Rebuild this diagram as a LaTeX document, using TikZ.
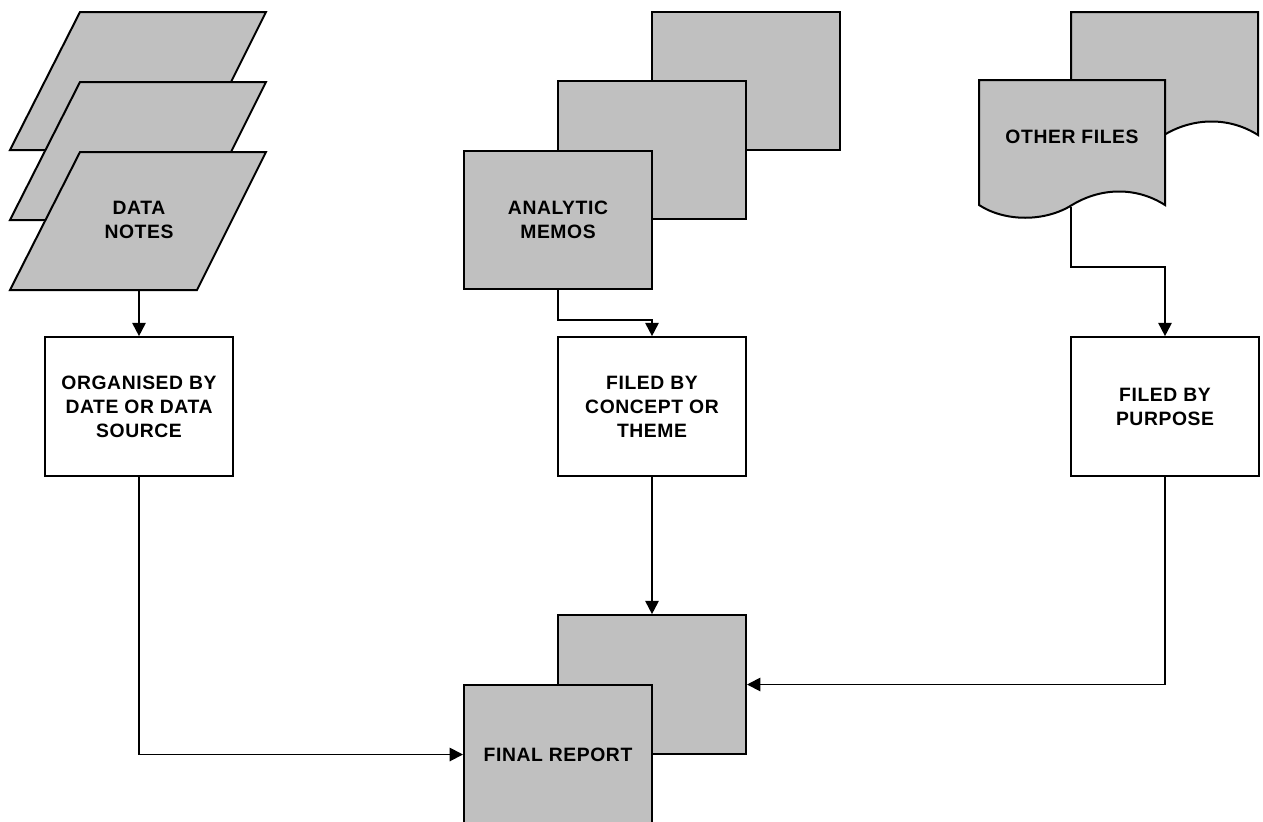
\documentclass[tikz,border=0pt]{standalone}
\usepackage{fontspec}
\usepackage{tikz}
\usetikzlibrary{arrows.meta,positioning,calc}
\newfontfamily\boxfont{Liberation Sans}[LetterSpace=3]
\definecolor{repGrey}{HTML}{C0C0C0}

\begin{document}
\begin{tikzpicture}[x=0.75pt,y=-0.75pt,
  every node/.style={font=\boxfont\bfseries\fontsize{14.5}{18}\selectfont,align=center},
  sheet/.style={draw=black,fill=repGrey,line width=1.5pt},
  card/.style={sheet,minimum width=141pt,minimum height=104pt,inner sep=0pt},
  stepbox/.style={draw=black,fill=white,line width=1.5pt,minimum width=141pt,minimum height=104pt,inner sep=0pt},
  flow/.style={-{Triangle[length=10pt,width=10pt]},line width=1.4pt}]
  \useasboundingbox (0,0) rectangle (1263,821);

  % data notes, a stack of three sheets
  \foreach \dy in {0,70,140}
    \draw[sheet] (80,12+\dy) -- ++(186,0) -- ++(-69,138) -- ++(-187,0) -- cycle;
  \node[minimum height=104pt,inner sep=0pt] (notes) at (139,220) {DATA\\NOTES};

  % analytic memos
  \node[card] (memoC) at (746,81) {};
  \node[card] (memoB) at (652,150) {};
  \node[card] (memo) at (558,220) {ANALYTIC\\MEMOS};

  % other files, two documents
  \draw[sheet] (1071,12) -- (1258,12) -- (1258,135)
    .. controls (1228,116) and (1192,118) .. (1164,135)
    .. controls (1137,152) and (1097,152) .. (1071,135) -- cycle;
  \draw[sheet] (979,80) -- (1165,80) -- (1165,205)
    .. controls (1135,186) and (1100,188) .. (1072,205)
    .. controls (1045,222) and (1005,222) .. (979,205) -- cycle;
  \node (other) at (1072,137) {OTHER FILES};
  \coordinate (otherfoot) at (1071,207);

  % filing steps
  \node[stepbox] (organised) at (139,406.5) {ORGANISED BY\\DATE OR DATA\\SOURCE};
  \node[stepbox] (concept) at (652,406.5) {FILED BY\\CONCEPT OR\\THEME};
  \node[stepbox] (purpose) at (1165,406.5) {FILED BY\\PURPOSE};

  % final report
  \node[card] (reportB) at (652,684.5) {};
  \node[card] (report) at (558,754.5) {FINAL REPORT};

  \draw[flow] (notes.south) -- (organised.north);
  \draw[flow] (memo.south) -- ++(0,30) -| (concept.north);
  \draw[flow] (otherfoot) -- ++(0,60) -| (purpose.north);
  \draw[flow] (organised.south) |- (report.west);
  \draw[flow] (concept.south) -- (reportB.north);
  \draw[flow] (purpose.south) |- (reportB.east);
\end{tikzpicture}
\end{document}
